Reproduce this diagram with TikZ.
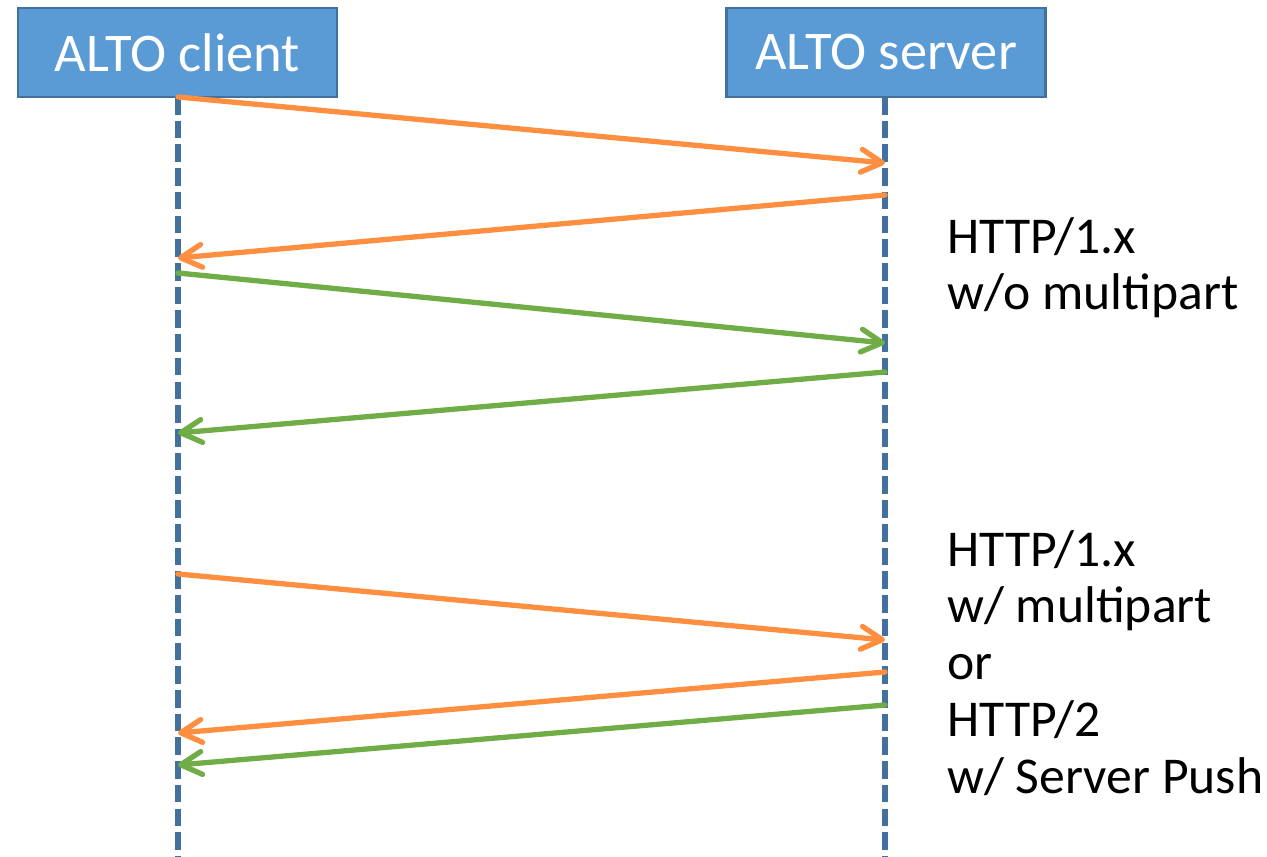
\documentclass[tikz,border=0pt]{standalone}
\usepackage{fontspec}
\usepackage{tikz}
\usepackage{xcolor}
\usetikzlibrary{arrows.meta}
\setmainfont{Carlito}
\definecolor{boxblue}{HTML}{5B9BD5}
\definecolor{boxedge}{HTML}{41719C}
\definecolor{lifeblue}{HTML}{41719C}
\definecolor{msgorange}{HTML}{FF8F40}
\definecolor{msggreen}{HTML}{70AD47}
\tikzset{
    party-box/.style = {draw=boxedge, fill=boxblue, line width=1.2pt, rectangle, minimum width=319*0.02cm, minimum height=89*0.02cm, text=white, font=\fontsize{31}{32}\selectfont},
    life-line/.style = {draw=lifeblue, line width=3pt, dash pattern=on 10pt off 3.5pt},
    msg/.style = {line width=3pt, line cap=round, -{Straight Barb[length=12pt, width=13pt, line cap=round, line join=round]}},
    msg-orange/.style = {msg, draw=msgorange},
    msg-green/.style = {msg, draw=msggreen},
    side-note/.style = {anchor=base west, align=left, inner sep=0pt, font=\fontsize{29.4}{32.3}\selectfont},
}
\begin{document}
\begin{tikzpicture}[x=0.02cm, y=-0.02cm]
\useasboundingbox (0,0) rectangle (1267,857);
% lifelines
\draw[life-line] (178,97) -- (178,857);
\draw[life-line] (885,97) -- (885,857);
\node[party-box] (client) at (177.5,52.5) {ALTO client};
\node[party-box] (server) at (886,52.5) {ALTO server};
% points on the lifelines
\coordinate (c1) at (178,97);
\coordinate (s1) at (885,163);
\coordinate (s2) at (885,195);
\coordinate (c2) at (178,258);
\coordinate (c3) at (178,273);
\coordinate (s3) at (885,343);
\coordinate (s4) at (885,372);
\coordinate (c4) at (178,433);
\coordinate (c5) at (178,574);
\coordinate (s5) at (885,640);
\coordinate (s6) at (885,672);
\coordinate (c6) at (178,733);
\coordinate (s7) at (885,705);
\coordinate (c7) at (178,765);
% messages
\draw[msg-orange] (c1) -- (s1);
\draw[msg-orange] (s2) -- (c2);
\draw[msg-green] (c3) -- (s3);
\draw[msg-green] (s4) -- (c4);
\draw[msg-orange] (c5) -- (s5);
\draw[msg-orange] (s6) -- (c6);
\draw[msg-green] (s7) -- (c7);
% notes (anchored on their last line)
\node[side-note] (plain) at (947,310) {HTTP/1.x\\w/o multipart};
\node[side-note] (multi) at (947,793) {HTTP/1.x\\w/ multipart\\or\\HTTP/2\\w/ Server Push};
\end{tikzpicture}
\end{document}
